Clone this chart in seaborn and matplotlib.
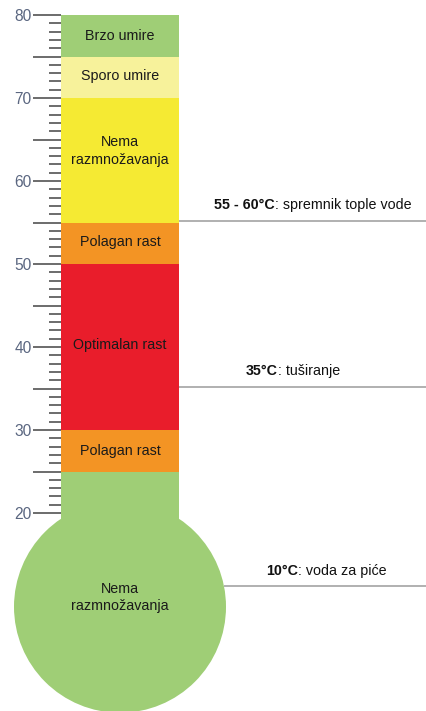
import matplotlib
matplotlib.use("Agg")
import matplotlib.pyplot as plt
from matplotlib.patches import Ellipse
from matplotlib.ticker import FixedLocator, FuncFormatter
import seaborn as sns
import pandas as pd

# tube segments (degrees C), bottom -> top
seg_bottom = [25, 30, 50, 55, 70, 75]
seg_top = [30, 50, 55, 70, 75, 80]
seg_label = ["Polagan rast", "Optimalan rast", "Polagan rast",
             "Nema\nrazmnožavanja", "Sporo umire", "Brzo umire"]
seg_label_y = [27.5, 40.3, 52.6, 63.6, 72.6, 77.5]
seg_color = ["#f39424", "#e91d2b", "#f39424", "#f5ea33", "#f7f29b", "#9fce76"]

# green stem below the coloured part, and the bulb
stem_bottom = 14
stem_top = 25
bulb_label = "Nema\nrazmnožavanja"
bulb_label_y = 9.8
green = "#9fce76"

# reference lines on the right
mark_y = [55.2, 35.2, 11.2]
mark_bold = ["55 - 60°C", "35°C", "10°C"]
mark_text = [": spremnik tople vode", ": tuširanje", ": voda za piće"]
mark_text_x = [214, 246, 266]     # px where the label starts
mark_line_x0 = [179, 179, 224]    # px where the line starts

major_ticks = [20, 25, 30, 35, 40, 45, 50, 55, 60, 65, 70, 75, 80]
minor_ticks = [t for t in range(21, 80) if t % 5]

W, H = 427, 711
px_per_deg = 8.3
tube_px = 118
tube_left_px = 61

sns.set_theme(style="white")
plt.rcParams["font.family"] = ["Liberation Sans", "DejaVu Sans"]

fig = plt.figure(figsize=(W / 100, H / 100), dpi=100)
ax = fig.add_axes([0, 0, 1, 1])

df = pd.DataFrame({"part": "tube",
                   "height": [t - b for b, t in zip(seg_bottom, seg_top)],
                   "bottom": seg_bottom, "color": seg_color})

# stem
sns.barplot(x=["tube"], y=[stem_top - stem_bottom], bottom=stem_bottom,
            color=green, saturation=1, width=1, edgecolor="none",
            linewidth=0, ax=ax)
for _, r in df.iterrows():
    sns.barplot(x=[r["part"]], y=[r["height"]], bottom=r["bottom"],
                color=r["color"], saturation=1, width=1, edgecolor="none",
                linewidth=0, ax=ax)

# bulb
bulb_r_px = 106
ax.add_patch(Ellipse((0, 8.7), 2 * bulb_r_px / tube_px,
                     2 * bulb_r_px / px_per_deg, color=green, lw=0, zorder=1))

# axis limits so the tube sits where it does in the picture
x_left = -0.5 - tube_left_px / tube_px
ax.set_xlim(x_left, x_left + W / tube_px)
ax.set_ylim(80 - (H - 15) / px_per_deg, 80 + 15 / px_per_deg)

fs = 10.3
for lab, y in zip(seg_label, seg_label_y):
    ax.text(0, y, lab, ha="center", va="center", fontsize=fs,
            color="#1a1a1a", linespacing=1.3)
ax.text(0, bulb_label_y, bulb_label, ha="center", va="center", fontsize=fs,
        color="#1a1a1a", linespacing=1.3)

# scale ticks
ax.spines["left"].set_position(("data", -0.5))
for s in ax.spines.values():
    s.set_visible(False)
ax.set_xticks([])
ax.set_xlabel("")
ax.yaxis.set_major_locator(FixedLocator(major_ticks))
ax.yaxis.set_minor_locator(FixedLocator(minor_ticks))
ax.yaxis.set_major_formatter(FuncFormatter(lambda v, p: f"{v:.0f}" if v % 10 == 0 else ""))
ax.tick_params(axis="y", which="major", length=20, width=1.1, color="#444444",
               labelsize=11.2, labelcolor="#5a6680", pad=1, direction="out", left=True)
ax.tick_params(axis="y", which="minor", length=8.6, width=1.1, color="#444444",
               direction="out", left=True)

# reference lines with labels
tr = ax.get_yaxis_transform()
for y, b, t, tx, x0 in zip(mark_y, mark_bold, mark_text, mark_text_x, mark_line_x0):
    ax.plot([x0 / W, 1], [y, y], transform=tr, color="#aaaaaa", lw=1.3,
            solid_capstyle="butt", zorder=0.5)
    bt = ax.text(tx / W, y + 1.85, b, transform=tr, ha="left", va="center",
                 fontsize=fs, fontweight="bold", color="#111111")
    ax.annotate(t, xy=(1, 0), xycoords=bt, ha="left", va="bottom",
                fontsize=fs, color="#111111")

fig.savefig("out.png", dpi=100, facecolor="white")
